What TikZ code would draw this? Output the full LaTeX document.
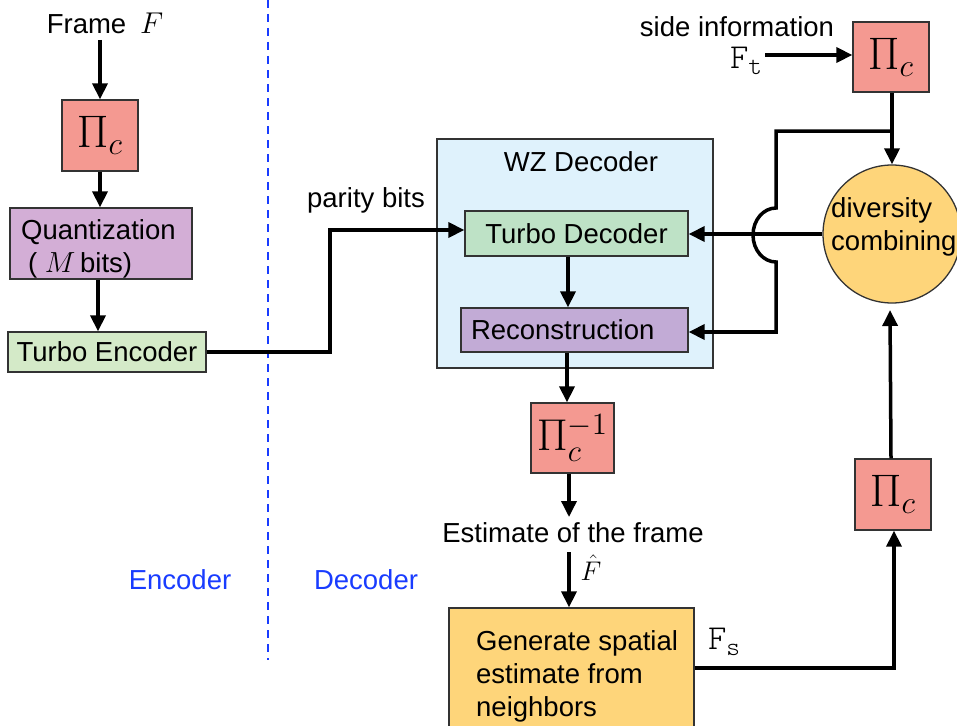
\documentclass[tikz,border=0pt]{standalone}
\usepackage{fix-cm}
\usepackage{graphicx}
\usepackage{fontspec}
\setmainfont{Liberation Sans}
\newfontfamily\ttlight{lmmonolt10-regular.otf}
\usetikzlibrary{arrows.meta}

\definecolor{piRed}{RGB}{244,153,145}
\definecolor{quantPurple}{RGB}{211,174,214}
\definecolor{recoPurple}{RGB}{194,171,214}
\definecolor{encGreen}{RGB}{212,234,200}
\definecolor{decGreen}{RGB}{190,226,198}
\definecolor{wzBlue}{RGB}{223,242,252}
\definecolor{genYellow}{RGB}{254,213,122}
\definecolor{sideBlue}{RGB}{25,60,255}

% typewriter signal name with a lowered typewriter index
\newcommand{\ttsubscr}[2]{{\ttlight\fontsize{35}{38}\selectfont #1\raisebox{-6pt}{\fontsize{26}{28}\selectfont #2}}}
% formula set at a standard size and enlarged
\newcommand{\mathbig}[2]{\scalebox{#1}{\fontsize{20.74}{24}\selectfont$#2$}}

\begin{document}
\begin{tikzpicture}[x=1pt,y=-1pt,
  font=\fontsize{27.5}{33}\selectfont,
  box/.style={draw=black!80, line width=1.3pt, inner sep=0pt},
  pibox/.style={box, fill=piRed, minimum width=76pt, minimum height=71pt},
  conn/.style={line width=3.5pt, -{Triangle[length=16pt,width=15pt]}},
  wire/.style={line width=3.5pt},
  lbl/.style={inner sep=0pt},
  sidelbl/.style={text=sideBlue, inner sep=0pt}]

\useasboundingbox (0,0) rectangle (957,725);
\clip (0,0) rectangle (957,725);

% encoder / decoder separation
\coordinate (sepTop) at (268,0);
\coordinate (sepBot) at (268,660);
\draw[sideBlue, line width=2.5pt, dash pattern=on 8pt off 6pt] (sepTop) -- (sepBot);
\node[sidelbl] (enclbl) at (180,580) {Encoder};
\node[sidelbl] (declbl) at (366,580) {Decoder};

% ---------------- encoder ----------------
\node[lbl] (frame) at (105,23) {Frame\enspace\mathbig{1.45}{F}};
\coordinate (fin) at (100,40);
\node[pibox] (pi1) at (100,135.5) {\mathbig{2.2}{\Pi_c}};
\node[box, fill=quantPurple, minimum width=182pt, minimum height=71pt] (quant) at (101,243.5) {};
\node[lbl, anchor=west, align=left] (quanttxt) at (21,249) {Quantization\\\hspace*{7pt}( \mathbig{1.4}{M}\,bits)};
\node[box, fill=encGreen, minimum width=198pt, minimum height=40pt] (tenc) at (107,352) {Turbo Encoder};

\draw[conn] (fin) -- (fin |- pi1.north);
\draw[conn] (pi1.south) -- (pi1.south |- quant.north);
\draw[conn] ([xshift=-3pt]quant.south) -- ([xshift=-3pt]quant.south |- tenc.north);

% parity bits to the decoder
\node[lbl] (parity) at (366,200) {parity bits};
\coordinate (pbc) at (330,230);

% ---------------- WZ decoder ----------------
\node[box, fill=wzBlue, minimum width=276pt, minimum height=229pt] (wz) at (575,253.5) {};
\node[lbl] (wztitle) at (581,162) {WZ Decoder};
\node[box, fill=decGreen, minimum width=223pt, minimum height=45pt] (tdec) at (576.5,233.5) {Turbo Decoder};
\node[box, fill=recoPurple, minimum height=44pt, text width=207pt, inner xsep=10pt,
      align=left] (reco) at (574.5,330) {Reconstruction};

\draw[conn] (tenc.east) -| (pbc) -- (pbc -| tdec.west);
\draw[conn] ([xshift=-8.5pt]tdec.south) -- ([xshift=-8.5pt]tdec.south |- reco.north);

% ---------------- inverse permutation and spatial estimate ----------------
\node[pibox, minimum width=83pt, minimum height=70pt] (piinv) at (572.5,438) {\mathbig{2.15}{\Pi_c^{-1}}};
\node[lbl] (est) at (573,533) {Estimate of the frame};
\node[box, fill=genYellow, minimum width=245pt, minimum height=131pt] (gen) at (571.5,673.5) {};
\node[lbl, anchor=west, align=left] (gentxt) at (476,676.5) {Generate spatial\\estimate from\\neighbors};
\node[lbl] (fs) at (724,642) {\ttsubscr{F}{s}};

\coordinate (colA) at (567,0);
\coordinate (colB) at (569,0);
\draw[conn] (reco.south -| colA) -- (piinv.north -| colA);
\draw[conn] (piinv.south -| colB) -- (colB |- 0,517);
\draw[conn] (colB |- 0,552) -- (gen.north -| colB);
\node[lbl] (fhat) at (591,568) {\mathbig{1.3}{\hat F}};

% ---------------- side information path ----------------
\node[lbl] (sideinfo) at (737,27) {side information};
\node[lbl] (ft) at (746,61) {\ttsubscr{F}{t}};
\coordinate (ftend) at (765,55);
\node[pibox, minimum height=70pt] (pi2) at (891,57) {\mathbig{2.2}{\Pi_c}};
\node[circle, draw=black!80, line width=1.3pt, fill=genYellow, minimum size=138pt,
      inner sep=0pt] (circ) at (892,234) {};
\node[lbl, anchor=west, align=left] (divtxt) at (831,227) {diversity\\combining};
\node[pibox] (pi3) at (893,494.5) {\mathbig{2.2}{\Pi_c}};

\draw[conn] (ftend) -- (ftend -| pi2.west);
\draw[conn] (pi2.south -| circ.north) -- (circ.north);
\draw[conn] ([yshift=5.5pt]gen.east) -| ([xshift=1pt]pi3.south);
\draw[conn] ([xshift=-2pt]pi3.north) -- ([xshift=-2pt]circ.south |- 0,310);
\draw[conn] (circ.west) -- (circ.west -| tdec.east);

% side information branch, hopping over the combiner output
\coordinate (br) at (892,131);
\coordinate (hop) at (776,131);
\coordinate (recoIn) at (776,332);
\draw[wire] (br) -- (hop) -- (776,208)
  arc[start angle=270, end angle=90, x radius=23, y radius=27] -- (recoIn);
\draw[conn] ([xshift=1.75pt]recoIn) -- (recoIn -| reco.east);

\end{tikzpicture}
\end{document}
